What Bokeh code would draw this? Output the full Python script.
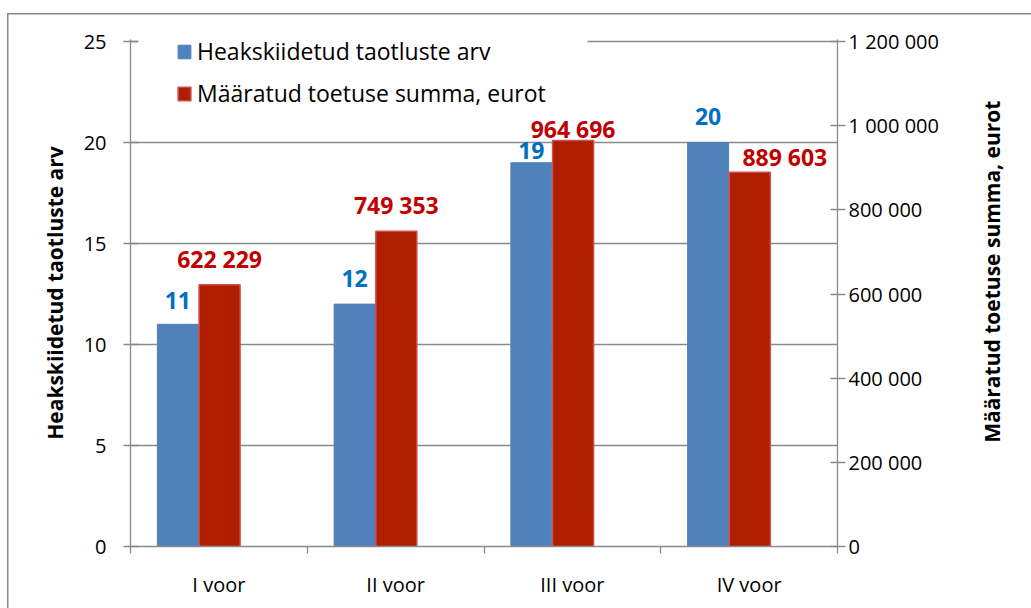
import numpy as np
from bokeh.plotting import figure
from bokeh.models import (Range1d, LinearAxis, FixedTicker, ColumnDataSource,
                          Legend, LegendItem, LabelSet, BoxAnnotation)
from bokeh.core.properties import value
from bokeh.transform import dodge
from bokeh.embed import file_html
from bokeh.resources import INLINE

# ---------------- data ----------------
categories = ["I voor", "II voor", "III voor", "IV voor"]
approved_counts = [11, 12, 19, 20]
grant_sums = [622229, 749353, 964696, 889603]
left_ticks = [0, 5, 10, 15, 20, 25]
right_ticks = [0, 200000, 400000, 600000, 800000, 1000000, 1200000]
right_tick_labels = ["0", "200 000", "400 000", "600 000", "800 000",
                     "1 000 000", "1 200 000"]
series_names = ["Heakskiidetud taotluste arv", "Määratud toetuse summa, eurot"]
left_title = "Heakskiidetud taotluste arv"
right_title = "Määratud toetuse summa, eurot"

# label nudges in pixels (style, not data)
count_label_dy = [24, 26, 12, 26]
sum_label_dy = [26, 26, 12, 15]
sum_label_dx = [0, 0, 0, 35]

# ---------------- styles ----------------
FONT = "Open Sans"
GRAY = "#8a8a8a"
BLUE = "#4f81bd"
RED = "#b01e00"
RED_EDGE = "#c8504d"
BLUE_TXT = "#0070c0"
RED_TXT = "#c00000"
BAR_W = 0.232
TOP_PAD = 1.004  # tiny headroom so the top gridline sits inside the frame
RIGHT_TITLE_LIFT = 19  # non-breaking spaces that lift the upward-reading title

W, H = 1024, 595

n = len(categories)
centers = np.arange(n) + 0.5
src = ColumnDataSource(dict(
    x=centers,
    count=approved_counts,
    total=grant_sums,
    count_txt=[str(v) for v in approved_counts],
    total_txt=[f"{v:,}".replace(",", " ") for v in grant_sums],
    count_dy=count_label_dy,
    total_dy=sum_label_dy,
    total_dx=sum_label_dx,
))

p = figure(width=W, height=H, x_range=Range1d(0, n),
           y_range=Range1d(0, left_ticks[-1] * TOP_PAD),
           output_backend="svg", toolbar_location=None,
           min_border_left=123, min_border_right=194, min_border_top=26,
           min_border_bottom=62)
p.margin = (13, 0, 0, 7)
p.styles = {"box-shadow": f"inset 1.5px 1.5px 0 0 {GRAY}"}
p.outline_line_color = None
p.background_fill_color = "white"
p.border_fill_color = None
p.extra_y_ranges = {"eur": Range1d(0, right_ticks[-1] * TOP_PAD)}

# grid
p.xgrid.visible = False
p.ygrid.ticker = FixedTicker(ticks=left_ticks)
p.ygrid.grid_line_color = GRAY
p.ygrid.grid_line_width = 1.3

# left axis
ya = p.yaxis[0]
ya.ticker = FixedTicker(ticks=left_ticks)
ya.axis_line_color = GRAY
ya.axis_line_width = 1.3
ya.major_tick_line_color = GRAY
ya.major_tick_line_width = 1.3
ya.major_tick_in = 8
ya.major_tick_out = 7
ya.minor_tick_line_color = None
ya.major_label_standoff = 17
ya.major_label_text_font = FONT
ya.major_label_text_font_size = "20px"
ya.major_label_text_color = "black"
ya.axis_label = left_title
ya.axis_label_text_font = FONT
ya.axis_label_text_font_size = "21px"
ya.axis_label_text_font_style = "bold"
ya.axis_label_text_color = "black"
ya.axis_label_standoff = 12

# right axis
ra = LinearAxis(y_range_name="eur", ticker=FixedTicker(ticks=right_ticks),
                major_label_overrides={t: l for t, l in zip(right_ticks, right_tick_labels)})
ra.axis_line_color = GRAY
ra.axis_line_width = 1.3
ra.major_tick_line_color = GRAY
ra.major_tick_line_width = 1.3
ra.major_tick_in = 7
ra.major_tick_out = 8
ra.minor_tick_line_color = None
ra.major_label_standoff = 3
ra.major_label_text_font = FONT
ra.major_label_text_font_size = "20px"
ra.major_label_text_color = "black"
ra.axis_label = "\u00a0" * RIGHT_TITLE_LIFT + right_title
ra.axis_label_text_font = FONT
ra.axis_label_text_font_size = "21px"
ra.axis_label_text_font_style = "bold"
ra.axis_label_text_color = "black"
ra.axis_label_standoff = 50
ra.axis_label_orientation = np.pi / 2
for _align in ("start", "left"):
    try:
        ra.axis_label_align = _align
        break
    except Exception:
        pass
p.add_layout(ra, "right")

# x axis: labels at centers, boundary ticks as minor ticks
xa = p.xaxis[0]
xa.ticker = FixedTicker(ticks=list(centers), minor_ticks=list(range(n + 1)))
xa.major_label_overrides = {float(c): lab for c, lab in zip(centers, categories)}
xa.axis_line_color = GRAY
xa.axis_line_width = 1.3
xa.major_tick_line_color = None
xa.major_tick_in = 0
xa.major_tick_out = 0
xa.minor_tick_line_color = GRAY
xa.minor_tick_line_width = 1.3
xa.minor_tick_in = 0
xa.minor_tick_out = 7
xa.major_label_standoff = 17
xa.major_label_text_font = FONT
xa.major_label_text_font_size = "20px"
xa.major_label_text_color = "black"

# bars
r_blue = p.vbar(x=dodge("x", -BAR_W, range=p.x_range), top="count", width=BAR_W,
                source=src, fill_color=BLUE, line_color=BLUE, line_width=1)
r_red = p.vbar(x=dodge("x", 0.004, range=p.x_range), top="total", width=BAR_W,
               source=src, y_range_name="eur", fill_color=RED, line_color=RED_EDGE,
               line_width=1.5)

# value labels
lab_blue = LabelSet(x=dodge("x", -BAR_W, range=p.x_range), y="count", text="count_txt",
                    y_offset="count_dy", source=src, text_align="center",
                    text_baseline="middle", text_font=value(FONT),
                    text_font_size="23px", text_font_style="bold",
                    text_color=BLUE_TXT)
lab_red = LabelSet(x=dodge("x", 0.004, range=p.x_range), y="total", text="total_txt",
                   y_range_name="eur", x_offset="total_dx", y_offset="total_dy",
                   source=src, text_align="center", text_baseline="middle",
                   text_font=value(FONT), text_font_size="23px",
                   text_font_style="bold", text_color=RED_TXT)
p.add_layout(lab_blue)
p.add_layout(lab_red)

# legend background (white box that hides the top gridline behind the legend)
p.add_layout(BoxAnnotation(left=0.045, right=2.586, bottom=21.8, top=26,
                           fill_color="white", fill_alpha=1.0, line_color=None))

legend = Legend(items=[LegendItem(label=series_names[0], renderers=[r_blue]),
                       LegendItem(label=series_names[1], renderers=[r_red])],
                location=(46, 437), orientation="vertical",
                background_fill_color="white", background_fill_alpha=1.0,
                border_line_color=None,
                padding=0, margin=0, spacing=10,
                glyph_width=16, glyph_height=17, label_height=17,
                label_standoff=5, label_text_font=FONT,
                label_text_font_size="23px", label_text_color="black")
p.add_layout(legend, "center")

open("out.html", "w").write(file_html(p, INLINE))
